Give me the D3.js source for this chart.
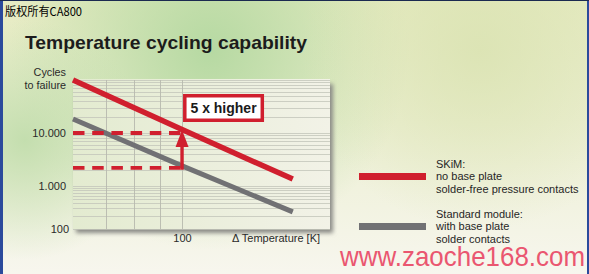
<!DOCTYPE html>
<html>
<head>
<meta charset="utf-8">
<script src="https://cdn.jsdelivr.net/npm/d3@7"></script>
<style>
body { margin: 0; overflow: hidden; background: #fff; }
svg { display: block; }
</style>
</head>
<body>
<svg class="chart" width="589" height="274"></svg>
<script>
// values
var deltaT = [60, 100, 168];
var skim = [100000, 11600, 1350];
var standard = [18400, 2400, 250];
var yTicks = [100, 1000, 10000];
var yTickLabels = ["100", "1.000", "10.000"];
var xTicks = [100];
var xGrid = [70, 80, 90, 100];
var refLevels = [10000, 2200];
var legendLines = [
    ["SKiM:", "no base plate", "solder-free pressure contacts"],
    ["Standard module:", "with base plate", "solder contacts"]
];
var colors = ["#d01f2e", "#717174"];

var width = 589, height = 274;
var plot = {left: 73, right: 330, top: 80, bottom: 229};

var x = d3.scaleLog()
    .domain([60, 200])
    .range([plot.left, plot.right]);

// decades are not evenly spaced in the original drawing
var y = d3.scaleLog()
    .domain([100, 1000, 10000, 100000])
    .range([229, 186, 133, 80]);

var svg = d3.select('.chart');
var defs = svg.append('defs');

var bg = defs.append('linearGradient').attr('id', 'bg')
    .attr('x1', 0).attr('y1', 0).attr('x2', 0).attr('y2', 1);
bg.append('stop').attr('offset', 0).attr('stop-color', '#e6ebc2');
bg.append('stop').attr('offset', 0.45).attr('stop-color', '#ecefd2');
bg.append('stop').attr('offset', 1).attr('stop-color', '#f7f6ee');

function blob(id, cx, cy, r, col, op) {
    var g = defs.append('radialGradient').attr('id', id)
        .attr('gradientUnits', 'userSpaceOnUse')
        .attr('cx', cx).attr('cy', cy).attr('r', r);
    g.append('stop').attr('offset', 0).attr('stop-color', col).attr('stop-opacity', op);
    g.append('stop').attr('offset', 1).attr('stop-color', col).attr('stop-opacity', 0);
}
blob('g1', 210, 50, 200, '#b6d9a2', 1);
blob('g2', 25, 140, 120, '#bfdcaa', 0.9);
blob('g3', 480, 50, 180, '#d9e2b0', 0.8);

var pf = defs.append('linearGradient').attr('id', 'pf')
    .attr('x1', 0).attr('y1', 0).attr('x2', 1).attr('y2', 0);
pf.append('stop').attr('offset', 0).attr('stop-color', '#e3ebd0');
pf.append('stop').attr('offset', 1).attr('stop-color', '#f2f2e7');

defs.append('filter').attr('id', 'blur')
    .attr('x', '-10%').attr('y', '-10%').attr('width', '120%').attr('height', '120%')
    .append('feGaussianBlur').attr('stdDeviation', 2.2);

// background
svg.append('rect').attr('width', width).attr('height', height).attr('fill', 'url(#bg)');
['g1', 'g2', 'g3'].forEach(function(id) {
    svg.append('rect').attr('width', width).attr('height', height).attr('fill', 'url(#' + id + ')');
});
svg.append('rect').attr('x', 0).attr('y', 0).attr('width', 3).attr('height', height).attr('fill', '#2b4a9c');
svg.append('rect').attr('x', width - 2).attr('y', 0).attr('width', 2).attr('height', height).attr('fill', '#2b4a9c');
svg.append('rect').attr('x', 0).attr('y', 0).attr('width', width).attr('height', 1).attr('fill', '#1b2a50');

svg.append('text')
    .attr('x', 5).attr('y', 16)
    .attr('textLength', 77).attr('lengthAdjust', 'spacingAndGlyphs')
    .style('font-family', '"Noto Sans CJK SC", sans-serif')
    .style('font-size', '12px')
    .style('fill', '#000')
    .text('版权所有CA800');

svg.append('text')
    .attr('x', 25).attr('y', 48.5)
    .attr('textLength', 282).attr('lengthAdjust', 'spacingAndGlyphs')
    .style('font-family', '"Liberation Sans", Arial, sans-serif')
    .style('font-weight', 'bold')
    .style('font-size', '18.5px')
    .style('fill', '#1c1c1c')
    .text('Temperature cycling capability');

// plot panel with shadow
svg.append('rect')
    .attr('x', plot.left + 3).attr('y', plot.top + 4)
    .attr('width', plot.right - plot.left).attr('height', plot.bottom - plot.top)
    .attr('fill', '#8a8a86').attr('filter', 'url(#blur)');
svg.append('rect')
    .attr('x', plot.left).attr('y', plot.top - 1)
    .attr('width', plot.right - plot.left).attr('height', plot.bottom - plot.top + 1)
    .attr('fill', 'url(#pf)');

var main = svg.append('g');

// horizontal grid (log minor lines)
main.selectAll('line.hgrid')
    .data(y.ticks())
    .enter().append('line')
    .attr('class', 'hgrid')
    .attr('x1', plot.left).attr('x2', plot.right)
    .attr('y1', function(d) { return Math.round(y(d)) + 0.5; })
    .attr('y2', function(d) { return Math.round(y(d)) + 0.5; })
    .style('stroke', '#c3c5ba')
    .style('stroke-width', 0.8);

// vertical grid
main.selectAll('line.vgrid')
    .data(xGrid)
    .enter().append('line')
    .attr('class', 'vgrid')
    .attr('x1', function(d) { return Math.round(x(d)) + 0.5; })
    .attr('x2', function(d) { return Math.round(x(d)) + 0.5; })
    .attr('y1', plot.top).attr('y2', plot.bottom)
    .style('stroke', '#b7b9ae')
    .style('stroke-width', 0.9);

var line = d3.line()
    .x(function(d) { return x(d[0]); })
    .y(function(d) { return y(d[1]); });

main.append('path')
    .datum(d3.zip(deltaT, standard))
    .attr('d', line)
    .style('fill', 'none')
    .style('stroke', colors[1])
    .style('stroke-width', 5);

// dashed reference levels
main.selectAll('line.ref')
    .data(refLevels)
    .enter().append('line')
    .attr('class', 'ref')
    .attr('x1', x(60)).attr('x2', x(100))
    .attr('y1', function(d) { return y(d); })
    .attr('y2', function(d) { return y(d); })
    .style('stroke', colors[0])
    .style('stroke-width', 3.8)
    .style('stroke-dasharray', '11.5,7.7');

// arrow
var ax = x(100), aTop = y(refLevels[0]), aBot = y(refLevels[1]);
main.append('line')
    .attr('x1', ax).attr('x2', ax)
    .attr('y1', aBot + 1.9).attr('y2', aTop + 12)
    .style('stroke', colors[0])
    .style('stroke-width', 3.4);
main.append('path')
    .attr('d', 'M' + ax + ',' + (aTop - 3) + 'L' + (ax + 6.5) + ',' + (aTop + 14) + 'L' + (ax - 6.5) + ',' + (aTop + 14) + 'Z')
    .style('fill', colors[0]);

main.append('path')
    .datum(d3.zip(deltaT, skim))
    .attr('d', line)
    .style('fill', 'none')
    .style('stroke', colors[0])
    .style('stroke-width', 5.5);

// "5 x higher" box
var bx = ax + 1;
main.append('rect')
    .attr('x', bx + 1.75).attr('y', 95.75)
    .attr('width', 77.5).attr('height', 24.5)
    .style('fill', '#fff')
    .style('stroke', colors[0])
    .style('stroke-width', 3.5);
main.append('text')
    .attr('x', bx + 40.5).attr('y', 113)
    .attr('text-anchor', 'middle')
    .style('font-family', '"Liberation Sans", Arial, sans-serif')
    .style('font-weight', 'bold')
    .style('font-size', '14px')
    .style('fill', '#1a1a1a')
    .text('5 x higher');

// axes
var yAxis = d3.axisLeft(y)
    .tickValues(yTicks)
    .tickFormat(function(d, i) { return yTickLabels[i]; })
    .tickSize(0)
    .tickPadding(7);
var gy = svg.append('g')
    .attr('transform', 'translate(' + plot.left + ',0)')
    .call(yAxis);
gy.select('.domain').remove();
gy.selectAll('text')
    .style('font-family', '"Liberation Sans", Arial, sans-serif')
    .style('font-size', '11px')
    .style('fill', '#2a2a2a')
    .attr('x', function(d) { return d === 100 ? -4 : -7; });

var xAxis = d3.axisBottom(x)
    .tickValues(xTicks)
    .tickFormat(d3.format('d'))
    .tickSize(0)
    .tickPadding(5);
var gx = svg.append('g')
    .attr('transform', 'translate(0,' + plot.bottom + ')')
    .call(xAxis);
gx.select('.domain').remove();
gx.selectAll('text')
    .style('font-family', '"Liberation Sans", Arial, sans-serif')
    .style('font-size', '11px')
    .style('fill', '#2a2a2a');

svg.append('text')
    .attr('x', 232).attr('y', 242)
    .style('font-family', '"Liberation Sans", Arial, sans-serif')
    .style('font-size', '11px')
    .style('fill', '#2a2a2a')
    .text('\u0394 Temperature [K]');

svg.selectAll('text.ylabel')
    .data(['Cycles', 'to failure'])
    .enter().append('text')
    .attr('class', 'ylabel')
    .attr('x', 66)
    .attr('y', function(d, i) { return 75.5 + i * 13; })
    .attr('text-anchor', 'end')
    .style('font-family', '"Liberation Sans", Arial, sans-serif')
    .style('font-size', '10.8px')
    .style('fill', '#2a2a2a')
    .text(function(d) { return d; });

// legend
var legend = svg.selectAll('g.legend')
    .data(legendLines)
    .enter().append('g')
    .attr('class', 'legend')
    .attr('transform', function(d, i) { return 'translate(0,' + (i * 50) + ')'; });

legend.append('rect')
    .attr('x', 359).attr('y', 173)
    .attr('width', 67).attr('height', 7)
    .style('fill', function(d, i) { return colors[i]; });

legend.selectAll('text')
    .data(function(d) { return d; })
    .enter().append('text')
    .attr('x', 436)
    .attr('y', function(d, i) { return 167.5 + i * 12.6; })
    .style('font-family', '"Liberation Sans", Arial, sans-serif')
    .style('font-size', '11px')
    .style('fill', '#262626')
    .text(function(d) { return d; });

// watermark
svg.append('text')
    .attr('x', 340).attr('y', 266)
    .attr('textLength', 245).attr('lengthAdjust', 'spacingAndGlyphs')
    .style('font-family', '"Liberation Sans", sans-serif')
    .style('font-size', '28px')
    .style('fill', '#ea5670')
    .text('www.zaoche168.com');
</script>
</body>
</html>
